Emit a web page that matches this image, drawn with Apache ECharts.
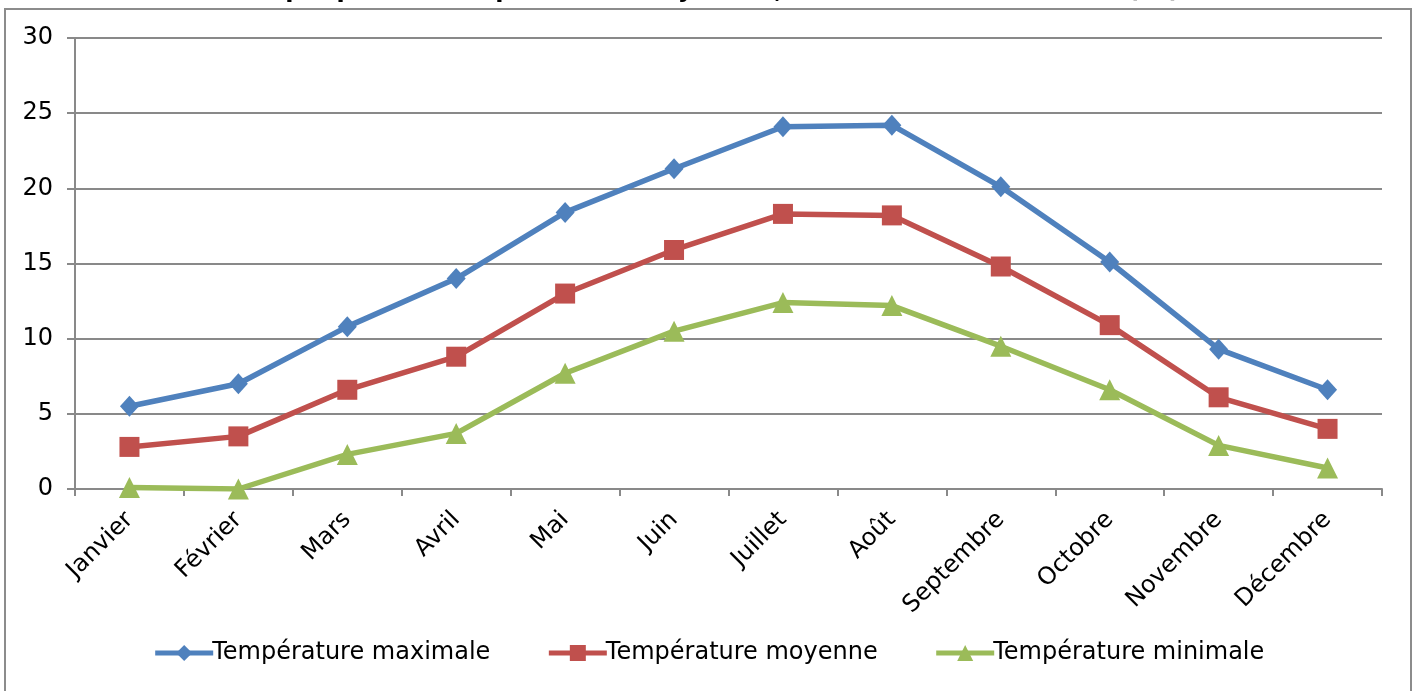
<!DOCTYPE html>
<html><head><meta charset="utf-8">
<script src="https://cdn.jsdelivr.net/npm/echarts@6/dist/echarts.min.js"></script>
<style>html,body{margin:0;padding:0;background:#fff}#c{width:1417px;height:691px}</style>
</head><body><div id="c"></div>
<script>
const months = ['Janvier','Février','Mars','Avril','Mai','Juin','Juillet','Août','Septembre','Octobre','Novembre','Décembre'];
const tMax = [5.5, 7.0, 10.8, 14.0, 18.4, 21.3, 24.1, 24.2, 20.1, 15.1, 9.3, 6.6];
const tMoy = [2.8, 3.5, 6.6, 8.8, 13.0, 15.9, 18.3, 18.2, 14.8, 10.9, 6.1, 4.0];
const tMin = [0.1, 0.0, 2.3, 3.7, 7.7, 10.5, 12.4, 12.2, 9.5, 6.6, 2.9, 1.4];
const seriesNames = ['Température maximale','Température moyenne','Température minimale'];
const titleText = 'Graphique des températures moyennes, maximales et minimales (°C)';

const font = '"DejaVu Sans", Verdana, sans-serif';
const chart = echarts.init(document.getElementById('c'), null, {renderer:'canvas'});
const mk = (name, data, color, symbol, size) => ({
  name, type:'line', data, symbol, symbolSize:size,
  lineStyle:{color, width:5.5}, itemStyle:{color},
  animation:false
});
chart.setOption({
  animation:false,
  title:{text:titleText, left:'center', top:-26.5,
    textStyle:{fontFamily:font, fontSize:24, fontWeight:'bold', color:'#000'}},
  graphic:[{type:'rect', shape:{x:5, y:9, width:1406, height:700},
    style:{fill:'none', stroke:'#8c8c8c', lineWidth:2}, z:-1}],
  grid:{left:75, right:35, top:38, bottom:202, containLabel:false},
  legend:{top:636, left:'center', itemWidth:58, itemHeight:20, itemGap:56,
    lineStyle:{width:5},
    textStyle:{fontFamily:font, fontSize:24, color:'#000', padding:[0,0,0,-6]},
    data:seriesNames},
  xAxis:{type:'category', data:months, boundaryGap:true,
    axisLine:{lineStyle:{color:'#898989', width:2}},
    axisTick:{show:true, length:7, lineStyle:{color:'#898989', width:2}},
    axisLabel:{rotate:45, fontFamily:font, fontSize:24, color:'#000', margin:27, interval:0}},
  yAxis:{type:'value', min:0, max:30, interval:5,
    axisLine:{show:true, lineStyle:{color:'#898989', width:2}},
    axisTick:{show:true, length:8, lineStyle:{color:'#898989', width:2}},
    splitLine:{lineStyle:{color:'#898989', width:2}},
    axisLabel:{fontFamily:font, fontSize:24, color:'#000', margin:22}},
  series:[
    mk(seriesNames[0], tMax, '#4F81BD', 'diamond', [19, 21]),
    mk(seriesNames[1], tMoy, '#C0504D', 'rect', 20),
    mk(seriesNames[2], tMin, '#9BBB59', 'triangle', 21)
  ]
});
</script></body></html>
